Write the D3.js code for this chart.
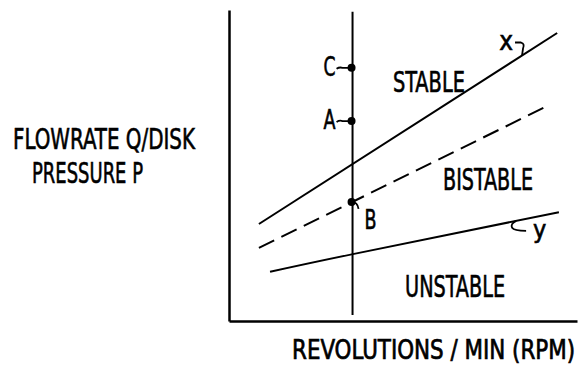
<!DOCTYPE html>
<html>
<head>
<meta charset="utf-8">
<script src="https://cdn.jsdelivr.net/npm/d3@7"></script>
<style>
  html, body { margin: 0; padding: 0; background: #fff; }
  text {
    font-family: 'DejaVu Sans Condensed', 'Liberation Sans Narrow', 'DejaVu Sans', sans-serif;
    fill: #000;
    stroke: #000;
    stroke-width: 0.6px;
  }
</style>
</head>
<body>
<div id="chart"></div>
<script>
// boundary lines, in arbitrary rpm / flow units (0-100)
const upperRpm = [8.6, 94.3]
const upperFlow = [31.2, 92.6]
const dashedRpm = [8.6, 91.4]
const dashedFlow = [23.5, 69.1]
const lowerRpm = [11.8, 35.6, 94.8]
const lowerFlow = [15.8, 21.5, 35.0]

// the constant-rpm test line and its operating points
const testRpm = 35.5
const testFlowRange = [1.9, 99.4]
const pointNames = ['C', 'A', 'B']
const pointFlow = [81.4, 64.3, 38.3]

const regionNames = ['STABLE', 'BISTABLE', 'UNSTABLE']
const regionRpm = [47.1, 61.5, 50.6]
const regionFlow = [73.6, 42.1, 7.7]

const width = 580
const height = 368

const svg = d3
  .select('#chart')
  .append('svg')
  .attr('width', width)
  .attr('height', height)

const xScale = d3.scaleLinear().domain([0, 100]).range([229, 577])
const yScale = d3.scaleLinear().domain([0, 100]).range([321, 10])

const ink = '#000'

// axes: no ticks, only the spines
svg
  .append('g')
  .attr('transform', 'translate(229,0)')
  .call(d3.axisLeft(yScale).tickValues([]).tickSizeOuter(0))
  .select('.domain')
  .attr('stroke', ink)
  .attr('stroke-width', 2.5)

svg
  .append('g')
  .attr('transform', 'translate(0,321)')
  .call(d3.axisBottom(xScale).tickValues([]).tickSizeOuter(0))
  .select('.domain')
  .attr('stroke', ink)
  .attr('stroke-width', 2.5)

const line = d3
  .line()
  .x(d => xScale(d[0]))
  .y(d => yScale(d[1]))

const lineCurved = d3
  .line()
  .curve(d3.curveNatural)
  .x(d => xScale(d[0]))
  .y(d => yScale(d[1]))

svg
  .append('path')
  .attr('d', line(d3.zip(upperRpm, upperFlow)))
  .attr('fill', 'none')
  .attr('stroke', ink)
  .attr('stroke-width', 2)

svg
  .append('path')
  .attr('d', line(d3.zip(dashedRpm, dashedFlow)))
  .attr('fill', 'none')
  .attr('stroke', ink)
  .attr('stroke-width', 2)
  .attr('stroke-dasharray', '17,8')

svg
  .append('path')
  .attr('d', lineCurved(d3.zip(lowerRpm, lowerFlow)))
  .attr('fill', 'none')
  .attr('stroke', ink)
  .attr('stroke-width', 2)

// vertical test line
svg
  .append('line')
  .attr('x1', xScale(testRpm))
  .attr('x2', xScale(testRpm))
  .attr('y1', yScale(testFlowRange[0]))
  .attr('y2', yScale(testFlowRange[1]))
  .attr('stroke', ink)
  .attr('stroke-width', 2)

// points
const points = pointNames.map((name, i) => ({ name: name, flow: pointFlow[i] }))

svg
  .selectAll('.pt')
  .data(points)
  .enter()
  .append('circle')
  .attr('class', 'pt')
  .attr('cx', xScale(testRpm) - 1)
  .attr('cy', d => yScale(d.flow))
  .attr('r', 4)
  .attr('fill', ink)

// leaders from letters to dots
svg
  .selectAll('.leader')
  .data(points)
  .enter()
  .append('path')
  .attr('class', 'leader')
  .attr('transform', d => `translate(${xScale(testRpm) - 1},${yScale(d.flow)})`)
  .attr('d', d =>
    d.name === 'B' ? 'M0,0 Q6,0 7,7' : 'M-15,1 Q-12,-1 -9,0 L0,0'
  )
  .attr('fill', 'none')
  .attr('stroke', ink)
  .attr('stroke-width', 1.8)

svg
  .selectAll('.pt-label')
  .data(points)
  .enter()
  .append('text')
  .attr('class', 'pt-label')
  .attr('x', d => (d.name === 'B' ? xScale(testRpm) + 12 : xScale(testRpm) - 17))
  .attr('y', d => yScale(d.flow) + (d.name === 'B' ? 27 : 8))
  .attr('text-anchor', d => (d.name === 'B' ? 'start' : 'end'))
  .attr('font-size', 26)
  .attr('textLength', 12)
  .attr('lengthAdjust', 'spacingAndGlyphs')
  .text(d => d.name)

// region labels
const regionWidths = [72, 90, 100]
svg
  .selectAll('.region')
  .data(regionNames)
  .enter()
  .append('text')
  .attr('class', 'region')
  .attr('x', (d, i) => xScale(regionRpm[i]))
  .attr('y', (d, i) => yScale(regionFlow[i]))
  .attr('font-size', (d, i) => (i === 0 ? 28 : 30))
  .attr('textLength', (d, i) => regionWidths[i])
  .attr('lengthAdjust', 'spacingAndGlyphs')
  .text(d => d)

// curve tags x and y with hooks
const upperAt = d3.scaleLinear().domain(upperRpm).range(upperFlow)
const lowerAt = d3.scaleLinear().domain(lowerRpm.slice(1)).range(lowerFlow.slice(1))
const xTagRpm = 84.2
const yTagRpm = 82.5

svg
  .append('path')
  .attr('transform', `translate(${xScale(xTagRpm)},${yScale(upperAt(xTagRpm))})`)
  .attr('d', 'M-7,-13 L-1,-13 Q3,-12 1,-7 L0,0')
  .attr('fill', 'none')
  .attr('stroke', ink)
  .attr('stroke-width', 1.8)

svg
  .append('text')
  .attr('x', xScale(xTagRpm) - 9)
  .attr('y', yScale(upperAt(xTagRpm)) - 6)
  .attr('text-anchor', 'end')
  .attr('font-size', 26)
  .text('x')

svg
  .append('path')
  .attr('transform', `translate(${xScale(yTagRpm)},${yScale(lowerAt(yTagRpm))})`)
  .attr('d', 'M0,0 Q-6,3 -4,7 Q-2,10 10,10')
  .attr('fill', 'none')
  .attr('stroke', ink)
  .attr('stroke-width', 1.8)

svg
  .append('text')
  .attr('x', xScale(yTagRpm) + 17)
  .attr('y', yScale(lowerAt(yTagRpm)) + 17)
  .attr('font-size', 25)
  .text('y')

// axis titles
svg
  .append('g')
  .attr('transform', 'translate(575,359) scale(1,1.15)')
  .append('text')
  .attr('text-anchor', 'end')
  .attr('font-size', 23)
  .attr('textLength', 283)
  .attr('lengthAdjust', 'spacingAndGlyphs')
  .text('REVOLUTIONS / MIN  (RPM)')

svg
  .append('text')
  .attr('x', 13)
  .attr('y', 149)
  .attr('font-size', 29)
  .attr('textLength', 182)
  .attr('lengthAdjust', 'spacingAndGlyphs')
  .text('FLOWRATE Q/DISK')

svg
  .append('text')
  .attr('x', 32)
  .attr('y', 183)
  .attr('font-size', 29)
  .attr('textLength', 111)
  .attr('lengthAdjust', 'spacingAndGlyphs')
  .text('PRESSURE P')
</script>
</body>
</html>
